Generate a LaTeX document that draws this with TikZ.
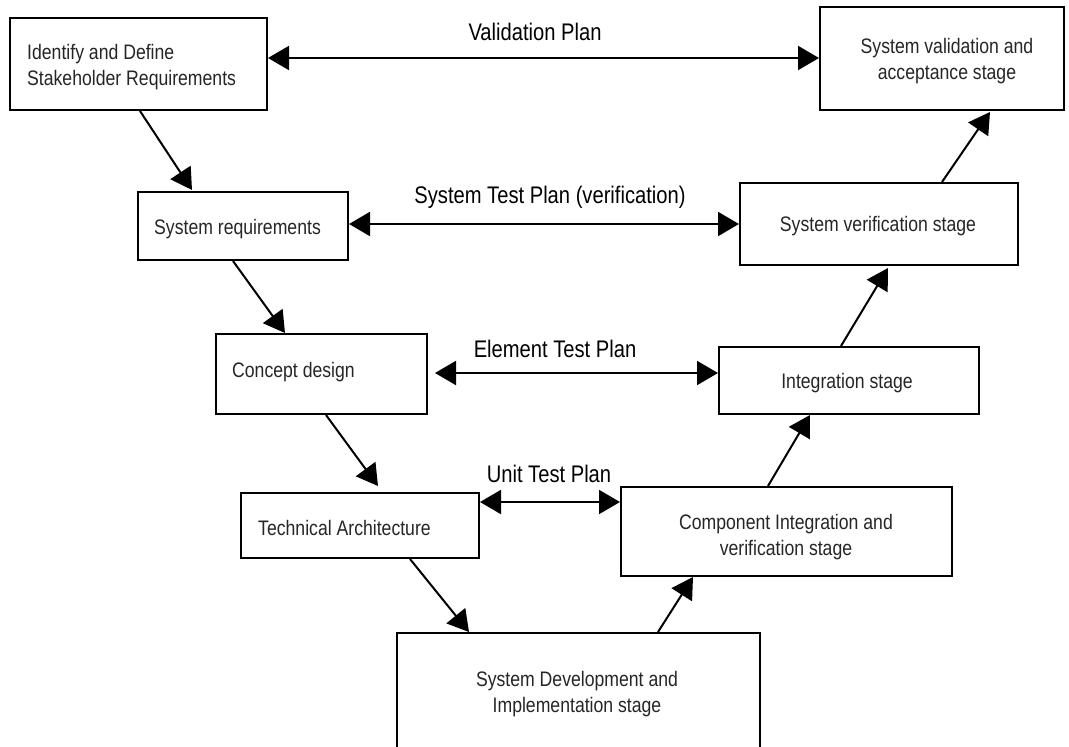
\documentclass[tikz,border=0pt]{standalone}
\usepackage{fontspec}
\setmainfont{Liberation Sans}[FakeStretch=0.84]
\usetikzlibrary{arrows.meta,calc}

\tikzset{
  stagebox/.style={draw=black, line width=2pt, fill=white, inner sep=0pt, anchor=north west},
  boxtext/.style={inner sep=0pt, text=black!85, font=\fontsize{21}{25.5}\selectfont},
  plantext/.style={inner sep=0pt, text=black, font=\fontsize{24}{28}\selectfont, anchor=base},
  flow/.style={line width=2pt, -{Triangle[length=21pt,width=24pt]}},
  plan/.style={line width=2pt, {Triangle[length=21pt,width=24pt]}-{Triangle[length=21pt,width=24pt]}}
}

\begin{document}
\begin{tikzpicture}[x=1pt,y=-1pt]
\useasboundingbox (0,0) rectangle (1069,747);

% stage boxes (left leg, bottom, right leg)
\node[stagebox, minimum width=257pt, minimum height=92pt]  (b1) at (9,17)   {};
\node[stagebox, minimum width=210pt, minimum height=68pt]  (b3) at (137,191) {};
\node[stagebox, minimum width=211pt, minimum height=80pt]  (b5) at (215,333) {};
\node[stagebox, minimum width=238pt, minimum height=65pt]  (b7) at (240,492) {};
\node[stagebox, minimum width=363pt, minimum height=125pt] (b9) at (396,632) {};
\node[stagebox, minimum width=331pt, minimum height=89pt]  (b8) at (620,486) {};
\node[stagebox, minimum width=260pt, minimum height=67pt]  (b6) at (718,346) {};
\node[stagebox, minimum width=278pt, minimum height=82pt]  (b4) at (739,182) {};
\node[stagebox, minimum width=244pt, minimum height=103pt] (b2) at (819,6)   {};

% box texts (two-line texts are placed by the baseline of their last line)
\node[boxtext, anchor=base west, align=left] (t1) at (27,85) {Identify and Define\\Stakeholder Requirements};
\node[boxtext, anchor=base, align=center] (t2) at (947,79) {System validation and\\acceptance stage};
\node[boxtext, anchor=base west] (t3) at (154,234) {System requirements};
\node[boxtext, anchor=base] (t4) at (878,231) {System verification stage};
\node[boxtext, anchor=base west] (t5) at (232,377) {Concept design};
\node[boxtext, anchor=base] (t6) at (847,388) {Integration stage};
\node[boxtext, anchor=base west] (t7) at (258,535) {Technical Architecture};
\node[boxtext, anchor=base, align=center] (t8) at (786,555) {Component Integration and\\verification stage};
\node[boxtext, anchor=base, align=center] (t9) at (577,712) {System Development and\\Implementation stage};

% plan labels
\node[plantext] (l1) at (535,40)  {Validation Plan};
\node[plantext] (l2) at (550,203) {System Test Plan (verification)};
\node[plantext] (l3) at (555,357) {Element Test Plan};
\node[plantext] (l4) at (549,482) {Unit Test Plan};

% downward flow on the left leg
\draw[flow] ($(b1.south west)+(131,0)$) -- ($(b3.north west)+(55,-1)$);
\draw[flow] ($(b3.south west)+(96,0)$)  -- ($(b5.north west)+(70,0)$);
\draw[flow] ($(b5.south west)+(111,0)$) -- ($(b7.north west)+(138,-6)$);
\draw[flow] ($(b7.south west)+(170,0)$) -- ($(b9.north west)+(73,0)$);

% upward flow on the right leg
\draw[flow] ($(b9.north west)+(262,0)$) -- ($(b8.south west)+(73,0)$);
\draw[flow] ($(b8.north west)+(148,0)$) -- ($(b6.south west)+(92,0)$);
\draw[flow] ($(b6.north west)+(123,0)$) -- ($(b4.south west)+(149,2)$);
\draw[flow] ($(b4.north west)+(203,0)$) -- ($(b2.south west)+(171,1)$);

% test plans linking both legs
\draw[plan] ($(b1.north east)+(0,41)$) -- ($(b2.north west)+(0,52)$);
\draw[plan] ($(b3.north east)+(0,33)$) -- ($(b4.north west)+(0,42)$);
\draw[plan, shorten <=7pt] ($(b5.north east)+(0,40)$) -- ($(b6.north west)+(0,27)$);
\draw[plan] ($(b7.north east)+(0,10)$) -- ($(b8.north west)+(0,16)$);
\end{tikzpicture}
\end{document}
